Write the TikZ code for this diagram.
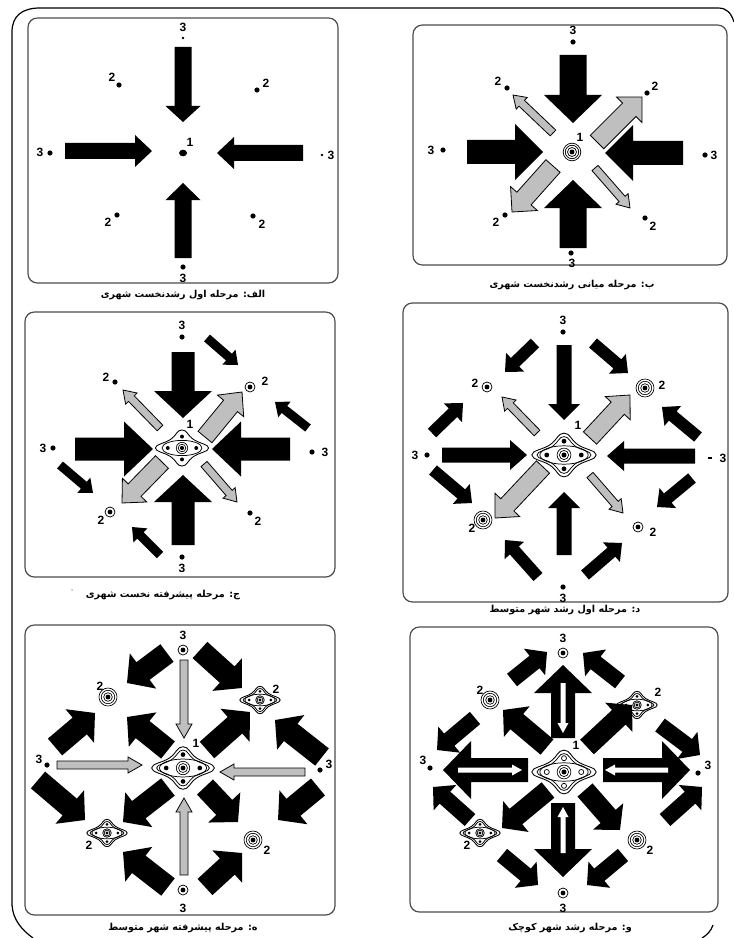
\documentclass[tikz,border=0pt]{standalone}
\usepackage{fontspec}
\setmainfont{Liberation Sans}
\newfontfamily\fa[Script=Arabic]{DejaVu Sans}
\TeXXeTstate=1
% arrow polygon: x1 y1 x2 y2 shaftwidth headwidth headlength style
\newcommand\arw[8]{%
  \pgfmathsetmacro\adx{#3-#1}%
  \pgfmathsetmacro\ady{#2-#4}%
  \pgfmathsetmacro\alen{veclen(\adx,\ady)}%
  \pgfmathsetmacro\aang{atan2(\ady,\adx)}%
  \pgfmathsetmacro\ahl{\alen-#7}%
  \begin{scope}[shift={(#1,#2)},rotate=\aang]
    \path[#8] (0,-#5/2) -- (\ahl,-#5/2) -- (\ahl,-#6/2) -- (\alen,0) -- (\ahl,#6/2) -- (\ahl,#5/2) -- (0,#5/2) -- cycle;
  \end{scope}}
\newcommand\ringA[2]{\fill (#1,#2) circle[radius=2.4]; \draw[line width=0.55pt] (#1,#2) circle[radius=5];}
\newcommand\ringB[2]{\fill (#1,#2) circle[radius=2.4]; \draw[line width=0.5pt] (#1,#2) circle[radius=4.3] (#1,#2) circle[radius=6.7] (#1,#2) circle[radius=9];}
\newcommand\dotp[3]{\fill (#1,#2) circle[radius=#3];}
\newcommand\lab[4]{\node[lbl] (#1) at (#2,#3) {#4};}
% city symbol: x y scale variant (0 single outline, 1 double, 2 double + hollow dots)
\newcommand\city[4]{%
  \begin{scope}[shift={(#1,#2)},scale=#3]
    \draw[line width=0.65pt] plot[smooth cycle,tension=0.8] coordinates {(28,0) (12,-9) (0,-19) (-12,-9) (-28,0) (-12,9) (0,19) (12,9)};
    \ifnum#4>0 \draw[line width=0.55pt] plot[smooth cycle,tension=0.8] coordinates {(23.5,0) (10,-7.5) (0,-16) (-10,-7.5) (-23.5,0) (-10,7.5) (0,16) (10,7.5)};\fi
    \draw[line width=0.55pt] (0,0) ellipse[x radius=21, y radius=8];
    \ifnum#4=2
      \draw[line width=0.55pt] (15,0) circle[radius=2.2] (-15,0) circle[radius=2.2] (0,12) circle[radius=2.2] (0,-12) circle[radius=2.2];
    \else
      \fill (15,0) circle[radius=2.1] (-15,0) circle[radius=2.1] (0,12) circle[radius=2.1] (0,-12) circle[radius=2.1];
    \fi
    \draw[line width=0.5pt] (0,0) circle[radius=6] (0,0) circle[radius=4];
    \fill (0,0) circle[radius=2.2];
  \end{scope}}
\begin{document}
\begin{tikzpicture}[x=0.75pt,y=-0.75pt,
  blk/.style={fill=black},
  gry/.style={fill=black!25,draw=black,line width=0.6pt},
  wht/.style={fill=white},
  lbl/.style={font=\fontsize{9}{9}\selectfont\bfseries,inner sep=0pt},
  captxt/.style={font=\fa\bfseries\fontsize{7.2}{8}\selectfont,inner sep=0pt},
  pbox/.style={draw=black!70,line width=0.9pt,rounded corners=7pt},
  frameline/.style={draw=black,line width=0.9pt}]
\useasboundingbox (0,0) rectangle (734,938);
\fill[white] (0,0) rectangle (734,938);
% outer frame
\draw[frameline] (12,905) -- (12,32) .. controls (12,16) and (22,8) .. (40,8) -- (718,8) .. controls (727,8) and (731,13) .. (734,22);
\draw[frameline] (12,905) .. controls (13,920) and (22,930) .. (33,938);
\draw[frameline] (713,925) .. controls (711,931) and (707,935) .. (702,938);

%================ Panel A =================
\draw[pbox] (28,18) rectangle (338,283);
\node[captxt] (capA) at (183,295) {\beginR الف: مرحله اول  رشدنخست شهری\endR};
\arw{183}{47}{183}{122}{17}{35}{16}{blk}
\arw{183}{258}{183}{183}{17}{35}{17}{blk}
\arw{65}{151}{152}{151}{16}{32}{17}{blk}
\arw{303}{153}{217}{153}{16}{32}{17}{blk}
\fill (183,153) ellipse[x radius=4, y radius=3.3];
\lab{a1}{190}{142}{1}
\dotp{183}{38}{1.3} \lab{a3t}{183}{27}{3}
\dotp{183}{267}{2.6} \lab{a3b}{183}{278}{3}
\dotp{50}{153}{2.6} \lab{a3l}{40}{152}{3}
\dotp{322}{155}{1.3} \lab{a3r}{331}{155}{3}
\dotp{119}{85}{2.6} \lab{a2a}{112}{77}{2}
\dotp{257}{90}{2.6} \lab{a2b}{266}{83}{2}
\dotp{117}{215}{2.6} \lab{a2c}{108}{222}{2}
\dotp{253}{216}{2.6} \lab{a2d}{262}{224}{2}

%================ Panel B =================
\draw[pbox] (413,25) rectangle (727,265);
\node[captxt] (capB) at (572,285) {\beginR ب: مرحله میانی رشدنخست شهری\endR};
\arw{573}{55}{573}{123}{27}{58}{28}{blk}
\arw{573}{248}{573}{180}{27}{58}{28}{blk}
\arw{467}{152}{543}{152}{24}{56}{28}{blk}
\arw{683}{153}{605}{153}{24}{56}{28}{blk}
\arw{597}{142}{642}{97}{19}{36}{18}{gry}
\arw{553}{166}{512}{212}{19}{36}{18}{gry}
\arw{553}{133}{513}{95}{8}{16}{12}{gry}
\arw{595}{168}{630}{208}{8}{16}{12}{gry}
\fill (572,152) circle[radius=2.5];
\draw[line width=0.55pt] (572,152) circle[radius=4.5] (572,152) circle[radius=6.7] (572,152) circle[radius=8.8];
\lab{b1}{580}{137}{1}
\dotp{573}{42}{2.6} \lab{b3t}{573}{30}{3}
\dotp{571}{253}{2.6} \lab{b3b}{572}{263}{3}
\dotp{443}{150}{2.6} \lab{b3l}{431}{150}{3}
\dotp{705}{155}{2.6} \lab{b3r}{714}{155}{3}
\dotp{507}{88}{2.6} \lab{b2a}{498}{81}{2}
\dotp{647}{93}{2.6} \lab{b2b}{655}{86}{2}
\dotp{505}{215}{2.6} \lab{b2c}{496}{222}{2}
\dotp{645}{218}{2.6} \lab{b2d}{653}{226}{2}

%================ Panel C =================
\draw[pbox] (25,312) rectangle (335,577);
\node[captxt] (capC) at (163,595) {\beginR ج: مرحله پیشرفته نخست شهری\endR};
\node[lbl,font=\fontsize{5}{5}\selectfont] (tick) at (72,592) {'};
\arw{183}{352}{183}{418}{23}{58}{27}{blk}
\arw{183}{545}{183}{475}{23}{58}{27}{blk}
\arw{75}{449}{153}{449}{23}{55}{29}{blk}
\arw{290}{449}{212}{449}{23}{55}{29}{blk}
\arw{205}{437}{242}{392}{18}{34}{18}{gry}
\arw{162}{462}{122}{503}{18}{34}{18}{gry}
\arw{160}{428}{123}{390}{8}{16}{12}{gry}
\arw{204}{464}{237}{502}{8}{16}{12}{gry}
\arw{207}{338}{238}{365}{9}{20}{12}{blk}
\arw{308}{428}{275}{402}{9}{20}{12}{blk}
\arw{60}{465}{93}{493}{9}{20}{12}{blk}
\arw{160}{555}{132}{527}{9}{20}{12}{blk}
\city{182}{448}{0.95}{0}
\lab{c1}{190}{424}{1}
\dotp{182}{337}{2.6} \lab{c3t}{182}{325}{3}
\dotp{182}{557}{2.6} \lab{c3b}{182}{568}{3}
\dotp{53}{448}{2.6} \lab{c3l}{43}{448}{3}
\dotp{312}{452}{2.6} \lab{c3r}{325}{452}{3}
\dotp{115}{382}{2.6} \lab{c2a}{106}{377}{2}
\ringA{250}{387} \lab{c2b}{265}{381}{2}
\ringA{110}{512} \lab{c2c}{101}{520}{2}
\dotp{250}{513}{2.6} \lab{c2d}{258}{521}{2}

%================ Panel D =================
\draw[pbox] (403,303) rectangle (728,602);
\node[captxt] (capD) at (565,610) {\beginR د: مرحله اول رشد شهر متوسط\endR};
\arw{564}{345}{564}{420}{15}{32}{16}{blk}
\arw{564}{555}{564}{492}{15}{32}{16}{blk}
\arw{442}{455}{527}{455}{15}{30}{17}{blk}
\arw{695}{456}{607}{456}{15}{30}{17}{blk}
\arw{590}{438}{630}{395}{18}{34}{18}{gry}
\arw{543}{467}{495}{518}{18}{34}{18}{gry}
\arw{537}{433}{502}{397}{8}{16}{12}{gry}
\arw{590}{475}{623}{513}{8}{16}{12}{gry}
\arw{535}{343}{505}{372}{12}{26}{14}{blk}
\arw{593}{343}{628}{373}{12}{26}{14}{blk}
\arw{432}{433}{463}{403}{12}{26}{14}{blk}
\arw{698}{437}{662}{407}{12}{26}{14}{blk}
\arw{433}{470}{472}{503}{12}{26}{14}{blk}
\arw{692}{478}{657}{507}{12}{26}{14}{blk}
\arw{538}{577}{505}{540}{12}{26}{14}{blk}
\arw{585}{575}{622}{543}{12}{26}{14}{blk}
\city{564}{455}{1.15}{1}
\lab{d1}{578}{425}{1}
\dotp{563}{332}{2.6} \lab{d3t}{563}{320}{3}
\dotp{563}{587}{2.6} \lab{d3b}{563}{598}{3}
\dotp{427}{455}{2.6} \lab{d3l}{415}{455}{3}
\draw[line width=1.5pt] (708,458) -- (712,458); \lab{d3r}{723}{458}{3}
\ringA{487}{387} \lab{d2a}{475}{383}{2}
\ringB{645}{388} \lab{d2b}{662}{385}{2}
\ringB{483}{520} \lab{d2c}{472}{528}{2}
\ringA{638}{527} \lab{d2d}{653}{532}{2}

%================ Panel E =================
\draw[pbox] (25,625) rectangle (335,915);
\node[captxt] (capE) at (183,928) {\beginR ه: مرحله پیشرفته شهر متوسط\endR};
\arw{184}{660}{184}{738}{8}{16}{14}{gry}
\arw{184}{875}{184}{798}{8}{16}{14}{gry}
\arw{57}{765}{142}{765}{8}{16}{14}{gry}
\arw{305}{772}{220}{772}{8}{16}{14}{gry}
\arw{207}{750}{250}{712}{22}{44}{20}{blk}
\arw{168}{750}{127}{717}{22}{44}{20}{blk}
\arw{168}{787}{123}{822}{22}{44}{20}{blk}
\arw{205}{787}{238}{822}{22}{44}{20}{blk}
\arw{167}{653}{127}{683}{22}{44}{20}{blk}
\arw{200}{650}{242}{688}{22}{44}{20}{blk}
\arw{55}{747}{95}{713}{22}{44}{20}{blk}
\arw{322}{757}{275}{720}{22}{44}{20}{blk}
\arw{38}{780}{85}{820}{22}{44}{20}{blk}
\arw{318}{787}{278}{820}{22}{44}{20}{blk}
\arw{168}{887}{123}{852}{22}{44}{20}{blk}
\arw{205}{887}{242}{853}{22}{44}{20}{blk}
\city{183}{768}{1.12}{1}
\lab{e1}{196}{743}{1}
\ringA{183}{650} \lab{e3t}{183}{635}{3}
\ringA{183}{890} \lab{e3b}{183}{908}{3}
\dotp{47}{765}{2.6} \lab{e3l}{39}{759}{3}
\dotp{320}{770}{2.6} \lab{e3r}{329}{764}{3}
\ringB{108}{697} \lab{e2a}{100}{686}{2}
\city{260}{700}{0.72}{1} \lab{e2b}{276}{689}{2}
\city{107}{833}{0.72}{1} \lab{e2c}{89}{845}{2}
\ringB{253}{840} \lab{e2d}{267}{850}{2}

%================ Panel F =================
\draw[pbox] (410,627) rectangle (718,912);
\node[captxt] (capF) at (570,928) {\beginR و: مرحله رشد شهر کوچک\endR};
\arw{563}{738}{563}{665}{24}{58}{28}{blk}
\arw{563}{803}{563}{877}{24}{58}{28}{blk}
\arw{528}{770}{443}{770}{24}{58}{28}{blk}
\arw{603}{770}{690}{770}{24}{58}{28}{blk}
\arw{563}{683}{563}{733}{5}{11}{10}{wht}
\arw{563}{853}{563}{807}{5}{11}{10}{wht}
\arw{458}{770}{522}{770}{5}{11}{10}{wht}
\arw{668}{770}{605}{770}{5}{11}{10}{wht}
\arw{587}{747}{632}{705}{20}{40}{18}{blk}
\arw{547}{747}{503}{710}{20}{40}{18}{blk}
\arw{548}{790}{502}{828}{20}{40}{18}{blk}
\arw{585}{790}{620}{830}{20}{40}{18}{blk}
\arw{512}{680}{547}{652}{16}{34}{16}{blk}
\arw{620}{682}{583}{653}{16}{34}{16}{blk}
\arw{475}{718}{437}{750}{16}{34}{16}{blk}
\arw{660}{725}{700}{755}{16}{34}{16}{blk}
\arw{470}{820}{433}{787}{16}{34}{16}{blk}
\arw{665}{820}{702}{787}{16}{34}{16}{blk}
\arw{502}{855}{538}{885}{16}{34}{16}{blk}
\arw{623}{855}{587}{885}{16}{34}{16}{blk}
\city{564}{772}{1.15}{2}
\lab{f1}{576}{745}{1}
\ringA{563}{653} \lab{f3t}{563}{638}{3}
\ringA{563}{893} \lab{f3b}{563}{908}{3}
\dotp{430}{768}{2.6} \lab{f3l}{423}{760}{3}
\dotp{698}{773}{2.6} \lab{f3r}{708}{765}{3}
\ringB{490}{700} \lab{f2a}{480}{690}{2}
\city{637}{705}{0.72}{1} \lab{f2b}{658}{692}{2}
\city{480}{833}{0.72}{1} \lab{f2c}{467}{845}{2}
\ringB{637}{840} \lab{f2d}{650}{850}{2}
\end{tikzpicture}
\end{document}
